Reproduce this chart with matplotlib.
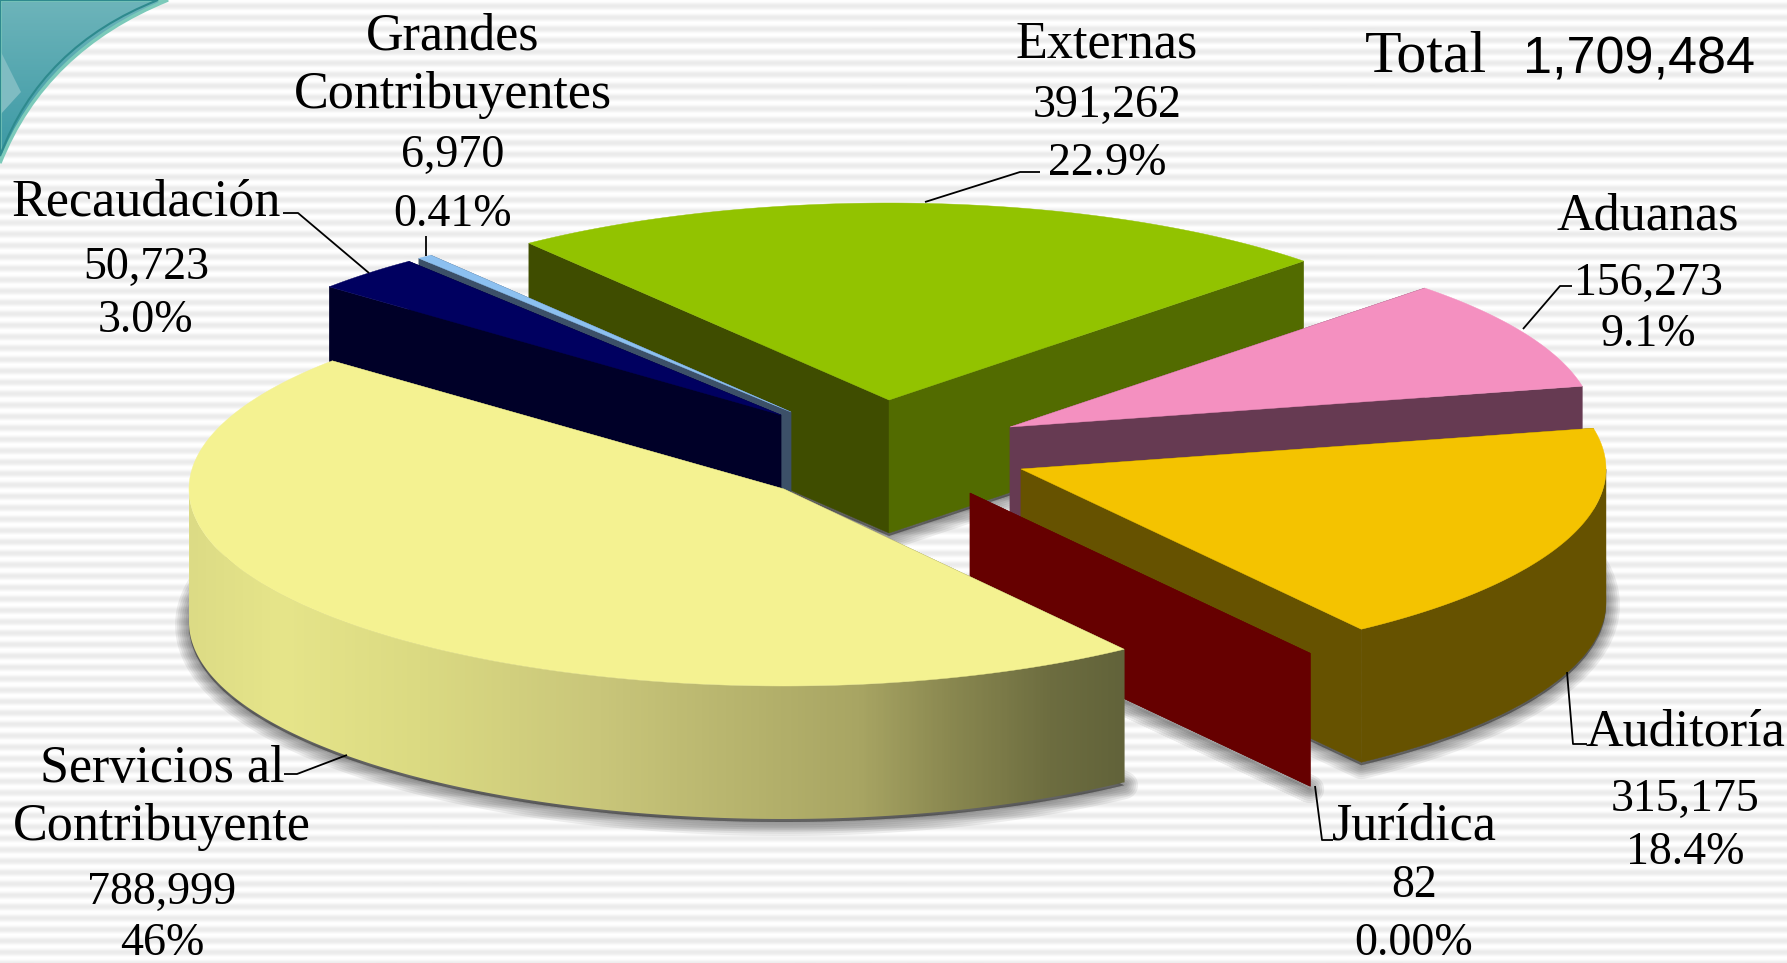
import numpy as np
import matplotlib
matplotlib.use('Agg')
import matplotlib.pyplot as plt
from matplotlib.colors import LinearSegmentedColormap
from matplotlib.patches import Polygon, PathPatch
from matplotlib.path import Path

# data, in the order the slices run counter-clockwise
names = ['Servicios al\nContribuyente', 'Jurídica', 'Auditoría', 'Aduanas',
         'Externas', 'Grandes\nContribuyentes', 'Recaudación']
values = [788999, 82, 315175, 156273, 391262, 6970, 50723]
percents = ['46%', '0.00%', '18.4%', '9.1%', '22.9%', '0.41%', '3.0%']
total = 1709484

# look of the slices
apex = [(784, 489), (970, 493), (1021, 469), (1010, 427), (889, 400), (791, 412), (781, 415)]
top_colors = ['#F4F291', '#660000', '#F4C300', '#F490C0', '#92C300', '#8CC0F0', '#000060']
wall_start = ['#62633A', '#660000', '#665200', '#663A52', '#526B00', '#3C5068', '#000028']
wall_end = ['#62633A', '#660000', '#665200', '#663A52', '#3F4D00', '#3C5068', '#000028']
draw_order = [4, 3, 5, 6, 2, 1, 0]

start_angle = 139.4
a_left, a_right, b, depth = 595, 585, 197, 133

# label centre x and the baseline of each line
label_x = [162, 1414, 1685, 1648, 1107, 453, 146]
label_y = [[782, 840, 904, 955], [840, 897, 955], [745, 811, 864], [230, 295, 346],
           [57, 117, 175], [50, 108, 167, 226], [216, 279, 332]]
leaders = [[(284, 774), (297, 774), (347, 755)],
           [(1333, 840), (1322, 840), (1315, 786)],
           [(1587, 744), (1573, 744), (1567, 672)],
           [(1572, 286), (1560, 286), (1523, 329)],
           [(1040, 172), (1020, 172), (925, 202)],
           [(426, 236), (426, 256)],
           [(283, 213), (298, 213), (369, 273)]]

plt.rcParams['font.family'] = ['Liberation Serif', 'DejaVu Serif']

fig = plt.figure(figsize=(17.87, 9.63), dpi=100)
ax = fig.add_axes([0, 0, 1, 1])

# striped background
rows = np.arange(963)
stripes = 0.96 + 0.04 * np.cos(rows * 2 * np.pi / 11.4)
ax.imshow(stripes[:, None], cmap='gray', vmin=0, vmax=1, extent=(0, 1787, 963, 0),
          aspect='auto', zorder=0, interpolation='bilinear')

# teal corner top left
codes = [Path.MOVETO, Path.CURVE3, Path.CURVE3, Path.LINETO, Path.CLOSEPOLY]
corner = Path([(0, 163), (45, 50), (168, 0), (0, 0), (0, 163)], codes)
inner = Path([(0, 156), (41, 46), (158, 0), (0, 0), (0, 156)], codes)
corner_patch = PathPatch(corner, fc='none', ec='none', zorder=1)
ax.add_patch(corner_patch)
teal = LinearSegmentedColormap.from_list('teal', ['#6DB4BA', '#3A98A4'])
im = ax.imshow(np.linspace(0, 1, 100)[:, None], cmap=teal, extent=(0, 168, 163, 0),
               aspect='auto', zorder=1)
im.set_clip_path(corner_patch)
ax.add_patch(Polygon([(0, 50), (21, 92), (0, 115)], fc='#7FBCC2', ec='none', zorder=1.1))
ax.add_patch(PathPatch(corner, fc='none', ec='#7CCABA', lw=2.5, zorder=1.2))
ax.add_patch(PathPatch(inner, fc='none', ec='#2E8A8E', lw=1.5, zorder=1.3))


def rim(cx, cy, theta):
    t = np.radians(theta)
    c = np.cos(t)
    return np.column_stack([cx + c * np.where(c > 0, a_right, a_left), cy - b * np.sin(t)])


edges = start_angle + np.concatenate([[0], np.cumsum(values)]) / sum(values) * 360

# soft shadow from the underside of each slice
for i in draw_order:
    cx, cy = apex[i]
    arc = rim(cx, cy + depth + 3, np.linspace(edges[i], edges[i + 1], 200))
    poly = np.vstack([[(cx, cy + depth + 3)], arc])
    for w in [20, 17, 14, 11, 8, 5, 2]:
        ax.add_patch(Polygon(poly, fc='black', ec='black', lw=w, alpha=0.065,
                             joinstyle='round', zorder=2))

# slices, back to front
z = 3
for i in draw_order:
    cx, cy = apex[i]
    theta = np.linspace(edges[i], edges[i + 1], 300)
    arc = rim(cx, cy, theta)

    # the side cuts, far one first
    cuts = [(arc[-1], wall_end[i]), (arc[0], wall_start[i])]
    cuts.sort(key=lambda cut: cut[0][1])
    for p, color in cuts:
        ax.add_patch(Polygon([(cx, cy), p, (p[0], p[1] + depth), (cx, cy + depth)],
                             fc=color, ec=color, lw=0.3, zorder=z))
    z += 1

    # outer rim where it faces us
    front = np.sin(np.radians(theta)) <= 0
    if front.any() and values[i] > 100:
        edge = arc[front]
        outline = np.vstack([edge, (edge + [0, depth])[::-1]])
        rim_patch = Polygon(outline, fc=wall_start[i], ec=wall_start[i], lw=0.3, zorder=z)
        ax.add_patch(rim_patch)
        if i == 0:
            rim_patch.set_facecolor('none')
            rim_patch.set_edgecolor('none')
            xs = [189, 280, 420, 600, 860, 950, 1050, 1122]
            cols = ['#DCDB85', '#E6E58A', '#DBDA82', '#C9C67A', '#A8A563', '#8A8850', '#6D6D40', '#62633A']
            shade = LinearSegmentedColormap.from_list(
                'shade', [((x - 189) / (1122 - 189), c) for x, c in zip(xs, cols)])
            im = ax.imshow(np.linspace(0, 1, 400)[None, :], cmap=shade,
                           extent=(186, 1125, 963, 0), aspect='auto', zorder=z)
            im.set_clip_path(rim_patch)
        z += 1

    # top face
    if values[i] > 100:
        ax.add_patch(Polygon(np.vstack([[(cx, cy)], arc]), fc=top_colors[i], ec=top_colors[i],
                             lw=0.3, zorder=z))
    z += 1

# labels
for i in range(len(names)):
    lines = names[i].split('\n') + [f'{values[i]:,}', percents[i]]
    for j, line in enumerate(lines):
        size = 33 if j >= len(lines) - 2 else 37.5
        ax.text(label_x[i], label_y[i][j], line, ha='center', va='baseline', fontsize=size,
                color='black', zorder=50)
    xy = np.array(leaders[i])
    ax.plot(xy[:, 0], xy[:, 1], color='black', lw=1.3, zorder=49, solid_capstyle='butt')

ax.text(1365, 72, 'Total', ha='left', va='baseline', fontsize=43, zorder=50)
ax.text(1755, 73, f'{total:,}', ha='right', va='baseline', fontsize=37.5,
        family='Liberation Sans', zorder=50)

ax.set_xlim(0, 1787)
ax.set_ylim(963, 0)
ax.axis('off')

fig.savefig('out.png', dpi=100)
